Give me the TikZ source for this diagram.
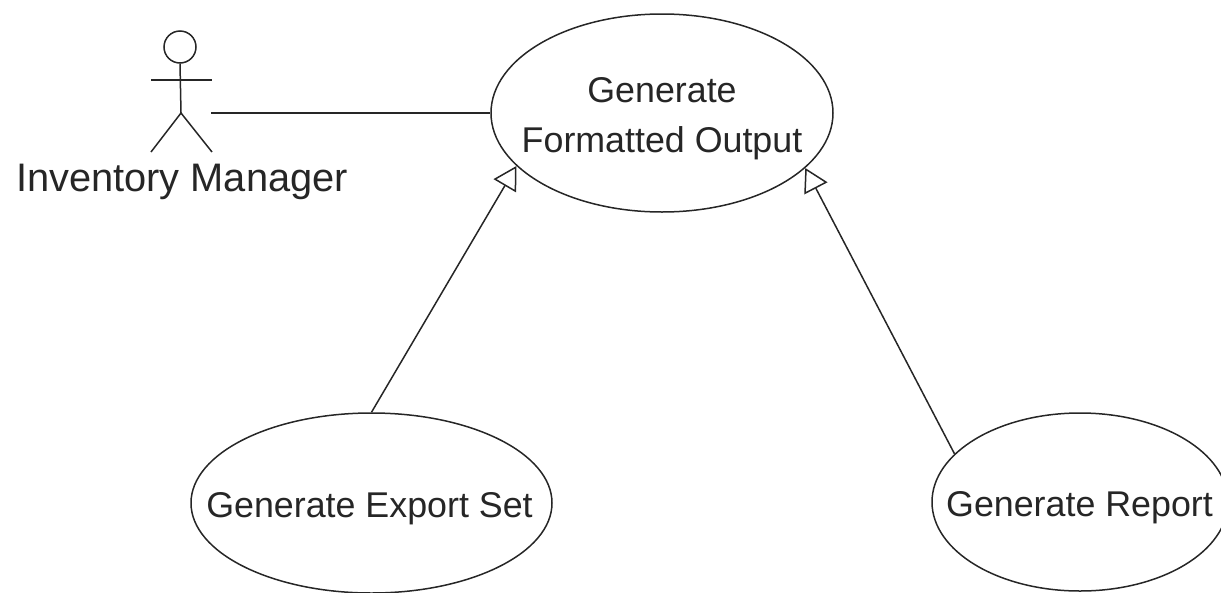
\documentclass[tikz,border=0pt]{standalone}
\usepackage{fontspec}
\setmainfont{Liberation Sans}
\usetikzlibrary{arrows.meta,shapes.geometric}
\newcommand{\casetext}[1]{\makebox[0pt][c]{\raisebox{-11pt}[0pt][0pt]{\begin{tabular}{@{}c@{}}#1\end{tabular}}}}
\tikzset{
  usecase/.style={draw=black!85,line width=1.5pt,ellipse,inner sep=0pt,font=\fontsize{35.8}{50}\selectfont,text=black!85},
  stick/.style={draw=black!85,line width=1.5pt},
  assoc/.style={draw=black!85,line width=1.5pt},
  gen/.style={draw=black!85,line width=1.5pt,-{Triangle[open,length=23pt,width=26pt,fill=white]}}
}
\begin{document}
\begin{tikzpicture}[x=1pt,y=-1pt]
\useasboundingbox (0,0) rectangle (1221,592);
\node[usecase,minimum width=342pt,minimum height=198pt] (main) at (662,113) {\casetext{Generate\\Formatted Output}};
\node[usecase,minimum width=361pt,minimum height=180pt] (export) at (371.5,503) {\casetext{\hspace*{-4pt}Generate Export Set}};
\node[usecase,minimum width=296pt,minimum height=178pt] (report) at (1080,502) {\casetext{\hspace*{-1pt}Generate Report}};
\node[stick,circle,inner sep=0pt,minimum size=32pt] (head) at (180,47) {};
\coordinate (hip) at (181,113);
\coordinate (armL) at (151,80);
\coordinate (armR) at (212,80);
\coordinate (footL) at (151,152);
\coordinate (footR) at (212,152);
\coordinate (anchorA) at (211,113);
\draw[stick] (head.south) -- (hip);
\draw[stick] (armL) -- (armR);
\draw[stick,line join=miter] (footL) -- (hip) -- (footR);
\node[font=\fontsize{39.8}{46}\selectfont,text=black!85,inner sep=0pt] (actor) at (182,182) {Inventory Manager};
\draw[assoc] (anchorA) -- (main.west);
\draw[gen] (export.north) -- (main.200.8);
\draw[gen] (report.159) -- (main.339.7);
\end{tikzpicture}
\end{document}
